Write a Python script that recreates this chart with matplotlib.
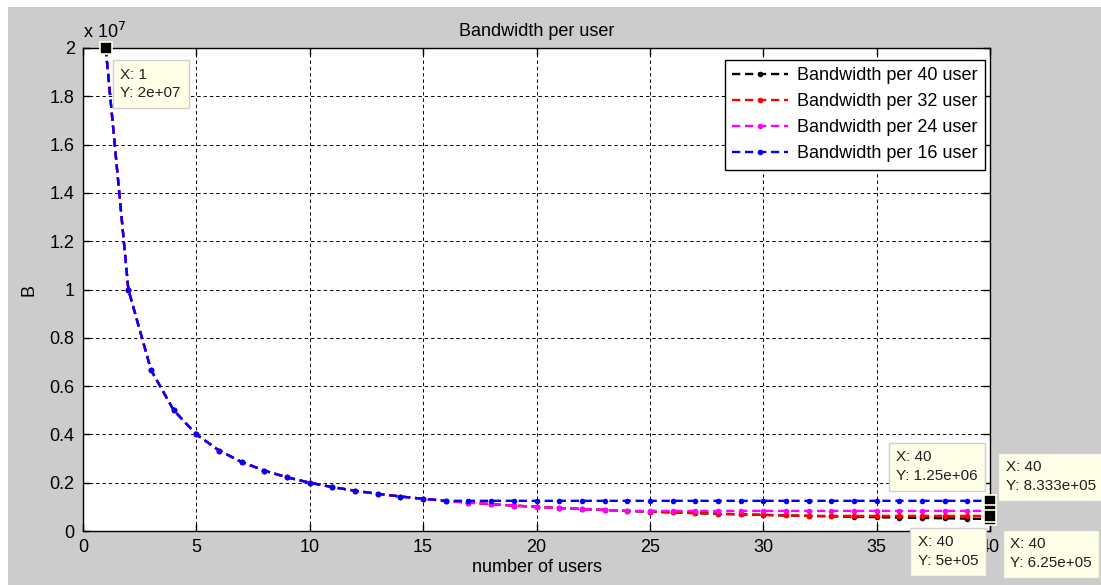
import matplotlib.pyplot as plt
from matplotlib.patches import Rectangle

# === data ===
users = list(range(1, 41))

bw_40 = [20000000, 10000000, 6666667, 5000000, 4000000, 3333333, 2857143, 2500000,
         2222222, 2000000, 1818182, 1666667, 1538462, 1428571, 1333333, 1250000,
         1176471, 1111111, 1052632, 1000000, 952381, 909091, 869565, 833333,
         800000, 769231, 740741, 714286, 689655, 666667, 645161, 625000,
         606061, 588235, 571429, 555556, 540541, 526316, 512821, 500000]
bw_32 = bw_40[:32] + [625000] * 8
bw_24 = bw_40[:24] + [833333] * 16
bw_16 = bw_40[:16] + [1250000] * 24

series = [
    ("Bandwidth per 40 user", bw_40, "black"),
    ("Bandwidth per 32 user", bw_32, "red"),
    ("Bandwidth per 24 user", bw_24, "magenta"),
    ("Bandwidth per 16 user", bw_16, "blue"),
]

y_ticks = [0, 2e6, 4e6, 6e6, 8e6, 1e7, 1.2e7, 1.4e7, 1.6e7, 1.8e7, 2e7]
y_tick_labels = ["0", "0.2", "0.4", "0.6", "0.8", "1", "1.2", "1.4", "1.6", "1.8", "2"]
x_ticks = [0, 5, 10, 15, 20, 25, 30, 35, 40]

# data tips: (x, y, text, offset in pixels of box centre)
tips = [
    (1, 20000000, "X: 1\nY: 2e+07", (45, -36)),
    (40, 1250000, "X: 40\nY: 1.25e+06", (-53, 34)),
    (40, 833333, "X: 40\nY: 8.333e+05", (61, 34)),
    (40, 500000, "X: 40\nY: 5e+05", (-42, -33)),
    (40, 625000, "X: 40\nY: 6.25e+05", (61, -38)),
]

plt.rcParams['font.family'] = ['Liberation Sans', 'DejaVu Sans']

W, H = 1101, 585
fig = plt.figure(figsize=(W / 100, H / 100), dpi=100)
fig.patch.set_facecolor("white")
fig.add_artist(Rectangle((8 / W, 0), 1, 1 - 7 / H, transform=fig.transFigure,
                         facecolor="#cccccc", edgecolor="none", zorder=-10))

ax = fig.add_axes([83 / W, 1 - 531 / H, 907 / W, 483 / H])
ax.set_facecolor("white")

for label, vals, col in series:
    ax.plot(users, vals, color=col, linestyle="--", dashes=(3.5, 2), lw=1.7,
            marker=".", markersize=6, label=label)

ax.set_xlim(0, 40)
ax.set_ylim(0, 2e7)
ax.set_xticks(x_ticks)
ax.set_yticks(y_ticks)
ax.set_yticklabels(y_tick_labels)
ax.tick_params(direction="in", length=5, width=1, top=True, right=True,
               labelsize=13, pad=6)
for s in ax.spines.values():
    s.set_linewidth(1.0)
ax.grid(True, color="black", linestyle=(0, (3.5, 3)), linewidth=0.7)

ax.text(0, 1.012, r"x 10$^{7}$", transform=ax.transAxes, fontsize=13,
        ha="left", va="bottom")

ax.set_title("Bandwidth per user", fontsize=13, pad=9)
ax.set_xlabel("number of users", fontsize=13, labelpad=2)
ax.set_ylabel("B", fontsize=13, labelpad=9)

leg = ax.legend(loc="upper right", bbox_to_anchor=(0.9945, 0.975), fontsize=13,
                fancybox=False, framealpha=1, edgecolor="black",
                handlelength=3.1, handletextpad=0.5, labelspacing=0.5,
                borderpad=0.4, borderaxespad=0)
leg.get_frame().set_linewidth(1.0)

# data tips
for x, y, txt, off in tips:
    ax.plot([x], [y], marker="s", markersize=8, color="black",
            markeredgecolor="#ffffe8", markeredgewidth=1.2, clip_on=False, zorder=5)
    ax.annotate(txt, xy=(x, y), xytext=off, textcoords="offset pixels",
                ha="center", va="center", multialignment="left", fontsize=11,
                linespacing=1.45, color="#202020", annotation_clip=False, zorder=6,
                bbox=dict(boxstyle="square,pad=0.5", facecolor="#ffffe8",
                          edgecolor="#d0d0d0", linewidth=1))

fig.savefig("out.png", dpi=100)
